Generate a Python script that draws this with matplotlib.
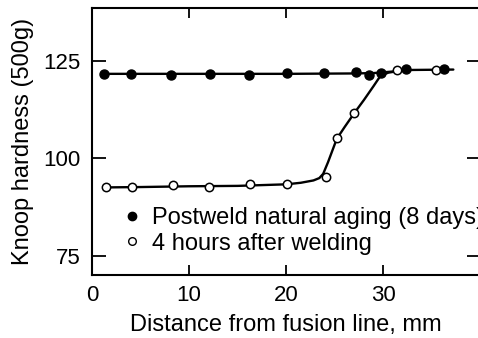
import matplotlib
matplotlib.use("Agg")
import matplotlib.pyplot as plt
from matplotlib.lines import Line2D

# measured points
aged_x = [1.2, 4.0, 8.1, 12.1, 16.2, 20.1, 23.9, 27.2, 28.5, 29.8, 32.3, 36.2]
aged_y = [121.7, 121.7, 121.3, 121.7, 121.3, 121.8, 121.8, 122.3, 121.3, 121.8, 122.9, 122.9]
welded_x = [1.4, 4.1, 8.3, 12.0, 16.3, 20.1, 24.1, 25.2, 27.0, 31.4, 35.4]
welded_y = [92.5, 92.6, 93.0, 92.6, 93.5, 93.3, 95.3, 105.2, 111.6, 122.6, 122.6]

# hand-drawn trend curves
aged_curve_x = [1.2, 10, 20, 27, 29, 31, 33, 37.2]
aged_curve_y = [121.7, 121.7, 121.7, 121.8, 121.9, 122.3, 122.7, 122.8]
welded_curve_x = [1.2, 5, 10, 15, 20, 21.5, 22.8, 23.4, 23.8, 24.3, 25.2, 26, 27, 28, 29, 29.7, 30.5, 31.5]
welded_curve_y = [92.5, 92.6, 92.8, 92.9, 93.3, 93.7, 94.3, 94.9, 96.0, 99.0, 105.0, 108.0,
                  111.6, 115.0, 118.6, 121.2, 122.0, 122.4]

x_ticks = [0, 10, 20, 30]
y_ticks = [75, 100, 125]

plt.rcParams["font.family"] = ["Liberation Sans", "DejaVu Sans"]

fig = plt.figure(figsize=(4.78, 3.38), dpi=100)
ax = fig.add_axes([0.1925, 0.1865, 0.8128, 0.7884])

ax.plot(welded_curve_x, welded_curve_y, color="black", lw=1.7,
        solid_joinstyle="round", solid_capstyle="round", zorder=2)
ax.plot(aged_curve_x, aged_curve_y, color="black", lw=1.7,
        solid_capstyle="round", zorder=2)
ax.plot(welded_x, welded_y, "o", ms=6, mfc="white", mec="black", mew=1.1, zorder=3)
ax.plot(aged_x, aged_y, "o", ms=6.5, color="black", zorder=4)

ax.set_xlim(0, 40)
ax.set_ylim(70, 138.5)
ax.set_xticks(x_ticks)
ax.set_yticks(y_ticks)
ax.tick_params(axis="both", direction="in", top=True, right=True,
               labelsize=16, width=1.3)
ax.tick_params(axis="y", length=10, pad=8)
ax.tick_params(axis="x", length=7.5, pad=7)
for sp in ax.spines.values():
    sp.set_linewidth(1.5)

ax.set_xlabel("Distance from fusion line, mm", fontsize=17, labelpad=6)
ax.set_ylabel("Knoop hardness (500g)", fontsize=17, labelpad=7)

handles = [
    Line2D([], [], ls="none", marker="o", ms=6, color="black"),
    Line2D([], [], ls="none", marker="o", ms=5.5, mfc="white", mec="black", mew=1.0),
]
labels = ["Postweld natural aging (8 days)", "4 hours after welding"]
fig.legend(handles, labels, loc="upper left", bbox_to_anchor=(120 / 478, 1 - 207 / 338),
           frameon=False, fontsize=17, borderpad=0, borderaxespad=0,
           handlelength=1.0, handletextpad=0.35, labelspacing=0.15)

fig.savefig("out.png", dpi=100)
